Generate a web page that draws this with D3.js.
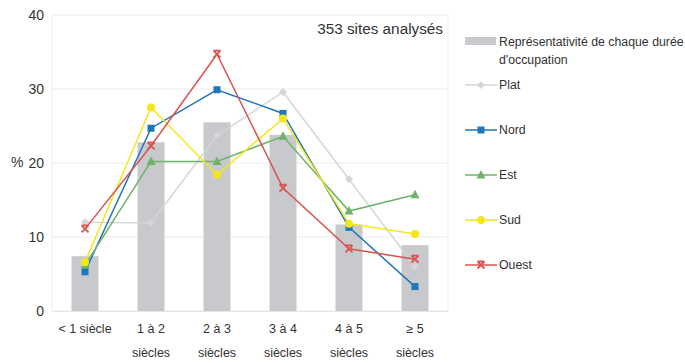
<!DOCTYPE html>
<html><head><meta charset="utf-8">
<script src="https://cdn.jsdelivr.net/npm/d3@7"></script>
<style>
body{margin:0;background:#fff;}
text{font-family:"Liberation Sans",Arial,sans-serif;}
</style></head>
<body><svg id="c" width="685" height="363"></svg>
<script>
const categories = [["< 1 siècle"], ["1 à 2", "siècles"], ["2 à 3", "siècles"], ["3 à 4", "siècles"], ["4 à 5", "siècles"], ["≥  5", "siècles"]];
const barValues = [7.4, 22.8, 25.5, 23.8, 11.7, 8.9];
const plat  = [12.0, 11.9, 23.7, 29.6, 17.8, 6.0];
const nord  = [5.3, 24.7, 29.9, 26.7, 11.3, 3.3];
const est   = [6.2, 20.2, 20.2, 23.6, 13.5, 15.7];
const sud   = [6.6, 27.5, 18.4, 26.0, 11.8, 10.4];
const ouest = [11.1, 22.3, 34.7, 16.6, 8.4, 7.0];
const yTicks = [0, 10, 20, 30, 40];
const barLabel = ["Représentativité de chaque durée", "d'occupation"];
const series = [
  {name:"Plat", values:plat, color:"#d6d6d6", marker:"diamond"},
  {name:"Nord", values:nord, color:"#1f77b8", marker:"square"},
  {name:"Est", values:est, color:"#6fb36a", marker:"triangle"},
  {name:"Sud", values:sud, color:"#f5e61a", marker:"circle"},
  {name:"Ouest", values:ouest, color:"#d9534f", marker:"star"}
];

const svg = d3.select("#c");
const L=52, R=448, T=15, B=311;
const x = d3.scaleBand().domain(d3.range(categories.length)).range([L,R]);
const y = d3.scaleLinear().domain([0,40]).range([B,T]);

// grid
svg.append("g").selectAll("line").data(yTicks).join("line")
  .attr("x1",L).attr("x2",R).attr("y1",d=>y(d)).attr("y2",d=>y(d))
  .attr("stroke","#ececec").attr("stroke-width",1);
svg.append("line").attr("x1",L).attr("x2",L).attr("y1",T).attr("y2",B).attr("stroke","#ececec");
svg.append("line").attr("x1",R).attr("x2",R).attr("y1",T).attr("y2",B).attr("stroke","#ececec");

// y axis
const ya = svg.append("g").attr("transform",`translate(${L-8},0)`)
  .call(d3.axisLeft(y).tickValues(yTicks).tickSize(0).tickPadding(0));
ya.select(".domain").remove();
ya.selectAll("text").attr("font-size",14).attr("fill","#333").attr("font-family","Liberation Sans, Arial, sans-serif");
svg.append("text").attr("x",11).attr("y",y(20)).attr("dy","0.32em").attr("font-size",14).attr("fill","#333").text("%");

// x axis
const xa = svg.append("g").attr("transform",`translate(0,${B})`)
  .call(d3.axisBottom(x).tickSize(0).tickPadding(0).tickFormat(""));
xa.select(".domain").attr("stroke","#e6e6e6");
const xl = svg.append("g").selectAll("text").data(categories).join("text")
  .attr("x",(d,i)=>x(i)+x.bandwidth()/2).attr("y",333)
  .attr("text-anchor","middle").attr("font-size",12.5).attr("fill","#333");
xl.each(function(d){
  const tx = d3.select(this).attr("x");
  d3.select(this).selectAll("tspan").data(d).join("tspan")
    .attr("x",tx).attr("dy",(t,j)=>j?"1.9em":0).text(t=>t);
});

// bars
const bw = 27;
svg.append("g").selectAll("rect").data(barValues).join("rect")
  .attr("x",(d,i)=>x(i)+x.bandwidth()/2-bw/2).attr("width",bw)
  .attr("y",d=>y(d)).attr("height",d=>B-y(d)).attr("fill","#c8c9cc");

function marker(g, type, color){
  if(type==="square") g.append("rect").attr("x",-3.5).attr("y",-3.5).attr("width",7).attr("height",7).attr("fill",color);
  else if(type==="circle") g.append("circle").attr("r",4).attr("fill",color);
  else if(type==="triangle") g.append("path").attr("d","M0,-5L4.5,3.5L-4.5,3.5Z").attr("fill",color);
  else if(type==="diamond") g.append("path").attr("d","M0,-4L4,0L0,4L-4,0Z").attr("fill",color);
  else if(type==="star") g.append("path").attr("d","M-3.5,-3.5L3.5,3.5M3.5,-3.5L-3.5,3.5M-3.5,-3.5L3.5,-3.5").attr("stroke",color).attr("stroke-width",1.8).attr("fill","none");
}

const line = d3.line().x((d,i)=>x(i)+x.bandwidth()/2).y(d=>y(d));
series.forEach(s=>{
  const g = svg.append("g");
  g.append("path").datum(s.values).attr("d",line).attr("fill","none").attr("stroke",s.color).attr("stroke-width",1.5);
  s.values.forEach((v,i)=>{
    const m = g.append("g").attr("transform",`translate(${x(i)+x.bandwidth()/2},${y(v)})`);
    marker(m,s.marker,s.color);
  });
});

// annotation
svg.append("text").attr("x",443).attr("y",34).attr("text-anchor","end").attr("font-size",15.3).attr("fill","#333").text("353 sites analysés");

// legend
const lg = svg.append("g");
lg.append("rect").attr("x",465).attr("y",37).attr("width",31).attr("height",8).attr("fill","#c8c9cc");
lg.append("text").attr("x",499).attr("y",46).attr("font-size",12.3).attr("fill","#333")
  .selectAll("tspan").data(barLabel).join("tspan").attr("x",499).attr("dy",(t,j)=>j?"1.45em":0).text(t=>t);
const ly = [85,130,175,220,265];
series.forEach((s,i)=>{
  const g = lg.append("g").attr("transform",`translate(0,${ly[i]})`);
  g.append("line").attr("x1",465).attr("x2",497).attr("stroke",s.color).attr("stroke-width",1.5);
  const m = g.append("g").attr("transform","translate(481,0)");
  marker(m,s.marker,s.color);
  g.append("text").attr("x",499).attr("y",0).attr("dy","0.35em").attr("font-size",12.3).attr("fill","#333").text(s.name);
});
</script></body></html>
